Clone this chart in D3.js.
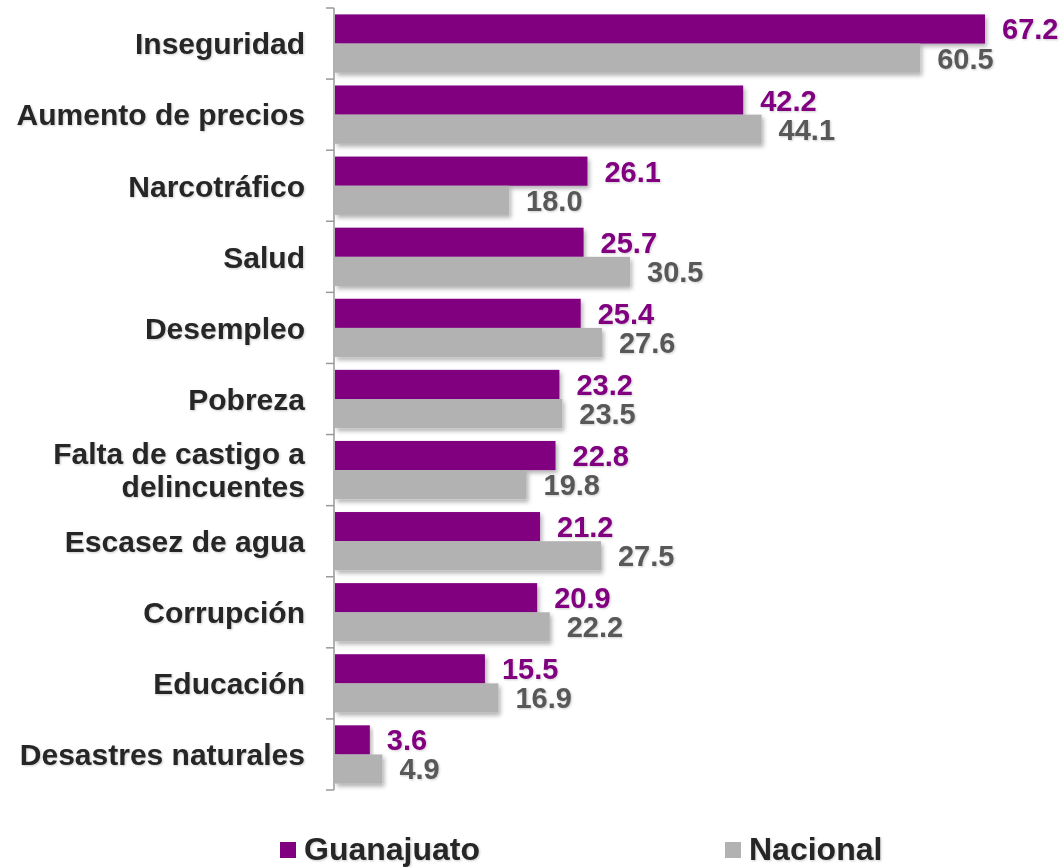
<!DOCTYPE html>
<html>
<head>
<meta charset="utf-8">
<script src="https://cdn.jsdelivr.net/npm/d3@7"></script>
<style>
  body { margin: 0; background: #fff; }
  svg text { font-family: "Liberation Sans", Arial, sans-serif; font-weight: bold; }
</style>
</head>
<body>
<div id="chart"></div>
<script>
// Chart data
var categories = ['Inseguridad', 'Aumento de precios', 'Narcotráfico', 'Salud', 'Desempleo', 'Pobreza',
  'Falta de castigo a\ndelincuentes', 'Escasez de agua', 'Corrupción', 'Educación', 'Desastres naturales'];
var guanajuato = [67.2, 42.2, 26.1, 25.7, 25.4, 23.2, 22.8, 21.2, 20.9, 15.5, 3.6];
var nacional = [60.5, 44.1, 18.0, 30.5, 27.6, 23.5, 19.8, 27.5, 22.2, 16.9, 4.9];
var seriesNames = ['Guanajuato', 'Nacional'];

var width = 1063, height = 867;
var colors = ['#800080', '#b2b2b2'];
var labelColors = ['#800080', '#595959'];

var svg = d3.select('#chart').append('svg')
  .attr('width', width).attr('height', height);

// Soft shadows under bars and text
var defs = svg.append('defs');
var filter = defs.append('filter').attr('id', 'shadow')
  .attr('x', '-5%').attr('y', '-20%').attr('width', '115%').attr('height', '160%');
filter.append('feDropShadow').attr('dx', 2).attr('dy', 3).attr('stdDeviation', 2)
  .attr('flood-color', '#000').attr('flood-opacity', 0.3);
var tshadow = defs.append('filter').attr('id', 'tshadow')
  .attr('x', '-5%').attr('y', '-20%').attr('width', '115%').attr('height', '160%');
tshadow.append('feDropShadow').attr('dx', 1).attr('dy', 1).attr('stdDeviation', 1)
  .attr('flood-color', '#000').attr('flood-opacity', 0.2);

var x = d3.scaleLinear().domain([0, 67.2]).range([335, 985]);
var y = d3.scaleBand().domain(categories).range([8, 790]).paddingInner(0.18).paddingOuter(0.09);
var inner = d3.scaleBand().domain([0, 1]).range([0, y.bandwidth()]);

// Bars per category
var groups = svg.selectAll('g.cat').data(categories).enter().append('g')
  .attr('class', 'cat').attr('transform', c => 'translate(0,' + y(c) + ')');

[guanajuato, nacional].forEach(function(series, s) {
  groups.append('rect')
    .attr('x', x(0)).attr('y', inner(s))
    .attr('width', (c, i) => x(series[i]) - x(0))
    .attr('height', inner.bandwidth())
    .attr('fill', colors[s])
    .attr('filter', 'url(#shadow)');
  groups.append('text')
    .attr('x', (c, i) => x(series[i]) + 17)
    .attr('y', inner(s) + inner.bandwidth() / 2)
    .attr('dy', '0.36em')
    .attr('font-size', 29)
    .attr('fill', labelColors[s])
    .attr('filter', 'url(#tshadow)')
    .text((c, i) => series[i].toFixed(1));
});

// Axis with ticks between the categories
var axisY = d3.scaleLinear().domain([0, categories.length]).range([8, 790]);
var axis = svg.append('g').attr('transform', 'translate(334,0)');
axis.append('line').attr('x1', 0).attr('x2', 0).attr('y1', axisY(0)).attr('y2', axisY(categories.length))
  .attr('stroke', '#999').attr('stroke-width', 1.5);
axis.selectAll('line.tick').data(d3.range(categories.length + 1)).enter().append('line')
  .attr('class', 'tick').attr('x1', -8).attr('x2', 0)
  .attr('y1', d => axisY(d)).attr('y2', d => axisY(d))
  .attr('stroke', '#999').attr('stroke-width', 1.5);

// Category labels
svg.selectAll('text.cat').data(categories).enter().append('text')
  .attr('class', 'cat')
  .attr('x', 305)
  .attr('y', c => axisY(categories.indexOf(c) + 0.5))
  .attr('text-anchor', 'end')
  .attr('font-size', 30)
  .attr('fill', '#262626')
  .attr('filter', 'url(#tshadow)')
  .each(function(c) {
    var lines = c.split('\n');
    var t = d3.select(this);
    lines.forEach(function(l, i) {
      t.append('tspan').attr('x', 305)
        .attr('dy', i === 0 ? (0.36 - (lines.length - 1) * 0.55) + 'em' : '1.1em')
        .text(l);
    });
  });

// Legend
var legendX = [280, 725];
var legend = svg.selectAll('g.legend').data(seriesNames).enter().append('g')
  .attr('class', 'legend').attr('transform', (d, i) => 'translate(' + legendX[i] + ',842)');
legend.append('rect').attr('width', 16).attr('height', 16).attr('fill', (d, i) => colors[i]);
legend.append('text').attr('x', 24).attr('y', 18)
  .attr('font-size', 32).attr('fill', '#262626')
  .attr('filter', 'url(#tshadow)').text(d => d);
</script>
</body>
</html>
